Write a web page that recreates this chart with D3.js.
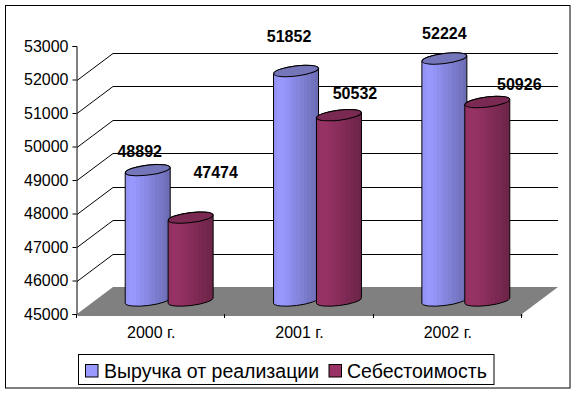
<!DOCTYPE html>
<html>
<head>
<meta charset="utf-8">
<script src="https://cdn.jsdelivr.net/npm/d3@7"></script>
<style>
    html, body { margin: 0; padding: 0; background: #fff; }
    svg { display: block; }
    text { font-family: "Liberation Sans", Arial, sans-serif; fill: #000; }
</style>
</head>
<body>
<svg></svg>
<script>
const categories = ['2000 г.', '2001 г.', '2002 г.'];
const seriesNames = ['Выручка от реализации', 'Себестоимость'];
const revenue = [48892, 51852, 52224];
const cost = [47474, 50532, 50926];
const yTicks = [45000, 46000, 47000, 48000, 49000, 50000, 51000, 52000, 53000];
const gridValues = [46000, 47000, 48000, 49000, 50000, 51000, 52000];

// labels were dragged by hand in the original, so each one has its own offset from the bar top
const labelNudge = [
    [[-8, -19], [-7, -35], [0, -25]],
    [[25, -45], [16, -22], [32, -18]]
];

let width = 576;
let height = 393;

let svg = d3.select('svg')
    .attr('width', width)
    .attr('height', height);

let depthX = 36;
let depthY = 27;
let x0 = 77, x1 = 522, yBottom = 314, yTop = 46;

let x = d3.scaleBand().domain(categories).range([x0, x1]);
let y = d3.scaleLinear().domain([45000, 53000]).range([yBottom, yTop]);

let seriesX = d3.scaleBand().domain([0, 1]).range([-44, 44]).paddingInner(-0.05);

const palette = [
    { fill: '#9999ff', dark: '#6b6bb2', top: '#7575ba' },
    { fill: '#993366', dark: '#6b2447', top: '#7a2952' }
];

// stepped shading, the original gradient is banded
let defs = svg.append('defs');
palette.forEach((p, i) => {
    let steps = 12;
    let light = d3.scaleLinear().domain([0, 0.18, 1]).range([d3.rgb(p.fill).darker(0.12), p.fill, p.dark]);
    let grad = defs.append('linearGradient').attr('id', 'cyl' + i);
    d3.range(steps).forEach(s => {
        grad.append('stop').attr('offset', s / steps).attr('stop-color', light((s + 0.5) / steps));
        grad.append('stop').attr('offset', (s + 1) / steps).attr('stop-color', light((s + 0.5) / steps));
    });
});

// outer frame
svg.append('rect')
    .attr('x', 5.5).attr('y', 5.5)
    .attr('width', 564.5).attr('height', 382.5)
    .attr('fill', '#fff').attr('stroke', '#000');

// floor
svg.append('path')
    .attr('d', d3.line()([
        [x0, yBottom], [x1, yBottom],
        [x1 + depthX, yBottom - depthY], [x0 + depthX, yBottom - depthY]
    ]) + 'Z')
    .attr('fill', '#808080');

// gridlines: side wall then back wall
let grid = svg.append('g').attr('fill', 'none').attr('stroke', '#000');
grid.selectAll('path')
    .data(gridValues)
    .enter()
    .append('path')
    .attr('d', d => d3.line()([
        [x0, Math.round(y(d)) + 0.5],
        [x0 + depthX, Math.round(y(d) - depthY) + 0.5],
        [x1 + depthX, Math.round(y(d) - depthY) + 0.5]
    ]));

// axes
let yAxis = d3.axisLeft(y).tickValues(yTicks).tickFormat(d3.format('d')).tickSize(4).tickPadding(4);
let xAxis = d3.axisBottom(x).tickSize(0).tickPadding(12);

let yG = svg.append('g').attr('transform', `translate(${x0 - 0.5},0)`).call(yAxis);
let xG = svg.append('g').attr('transform', `translate(0,${yBottom + 0.5})`).call(xAxis);
[yG, xG].forEach(g => {
    g.select('.domain').attr('stroke', '#000');
    g.selectAll('text').attr('font-size', 16).attr('fill', '#000');
    g.selectAll('line').attr('stroke', '#000');
});

// category separators on the x axis
svg.append('g').selectAll('line')
    .data(d3.range(categories.length + 1))
    .enter()
    .append('line')
    .attr('x1', i => Math.round(x0 + i * x.bandwidth()) - 0.5)
    .attr('x2', i => Math.round(x0 + i * x.bandwidth()) - 0.5)
    .attr('y1', yBottom)
    .attr('y2', yBottom + 4)
    .attr('stroke', '#000');

// cylinders
let rx = 22.5, ry = 5, tilt = -7;
let floorShift = depthY / 2;
let rows = [];
categories.forEach((c, ci) => {
    [revenue, cost].forEach((s, si) => rows.push({ c, ci, si, value: s[ci] }));
});

function barX(d) {
    return x(d.c) + x.bandwidth() / 2 + seriesX(d.si) + seriesX.bandwidth() / 2 + depthX / 2;
}

let bars = svg.selectAll('g.cylinder')
    .data(rows)
    .enter()
    .append('g')
    .classed('cylinder', true)
    .attr('transform', d => `translate(${barX(d)}, 0)`);

bars.append('path')
    .attr('d', d => {
        let yT = y(d.value) - floorShift;
        let yB = y(45000) - floorShift;
        let lift = rx * Math.sin(-tilt * Math.PI / 180);
        return `M${-rx},${yT + lift} L${-rx},${yB + lift}` +
            `A${rx},${ry} ${tilt} 0 0 ${rx},${yB - lift}` +
            `L${rx},${yT - lift}` +
            `A${rx},${ry} ${tilt} 0 0 ${-rx},${yT + lift}Z`;
    })
    .attr('fill', d => `url(#cyl${d.si})`)
    .attr('stroke', '#000');

bars.append('ellipse')
    .attr('rx', rx)
    .attr('ry', ry)
    .attr('transform', d => `translate(0, ${y(d.value) - floorShift}) rotate(${tilt})`)
    .attr('fill', d => palette[d.si].top)
    .attr('stroke', '#000');

// value labels
svg.selectAll('text.value')
    .data(rows)
    .enter()
    .append('text')
    .classed('value', true)
    .attr('x', d => barX(d) + labelNudge[d.si][d.ci][0])
    .attr('y', d => y(d.value) - floorShift + labelNudge[d.si][d.ci][1])
    .attr('dy', '0.36em')
    .attr('text-anchor', 'middle')
    .attr('font-size', 16)
    .attr('font-weight', 'bold')
    .text(d => d.value);

// legend
let legend = svg.append('g');
legend.append('rect')
    .attr('x', 78.5).attr('y', 354.5)
    .attr('width', 415.5).attr('height', 30)
    .attr('fill', '#fff').attr('stroke', '#000');

let legendItem = legend.selectAll('g')
    .data(seriesNames)
    .enter()
    .append('g')
    .attr('transform', (d, i) => `translate(${[85.5, 329][i]}, 364.5)`);

legendItem.append('rect')
    .attr('width', 12.5).attr('height', 12.5)
    .attr('fill', (d, i) => palette[i].fill)
    .attr('stroke', '#000');

legendItem.append('text')
    .attr('x', (d, i) => [18.5, 18][i])
    .attr('y', 6.5)
    .attr('dy', '0.36em')
    .attr('font-size', 19.5)
    .text(d => d);
</script>
</body>
</html>
